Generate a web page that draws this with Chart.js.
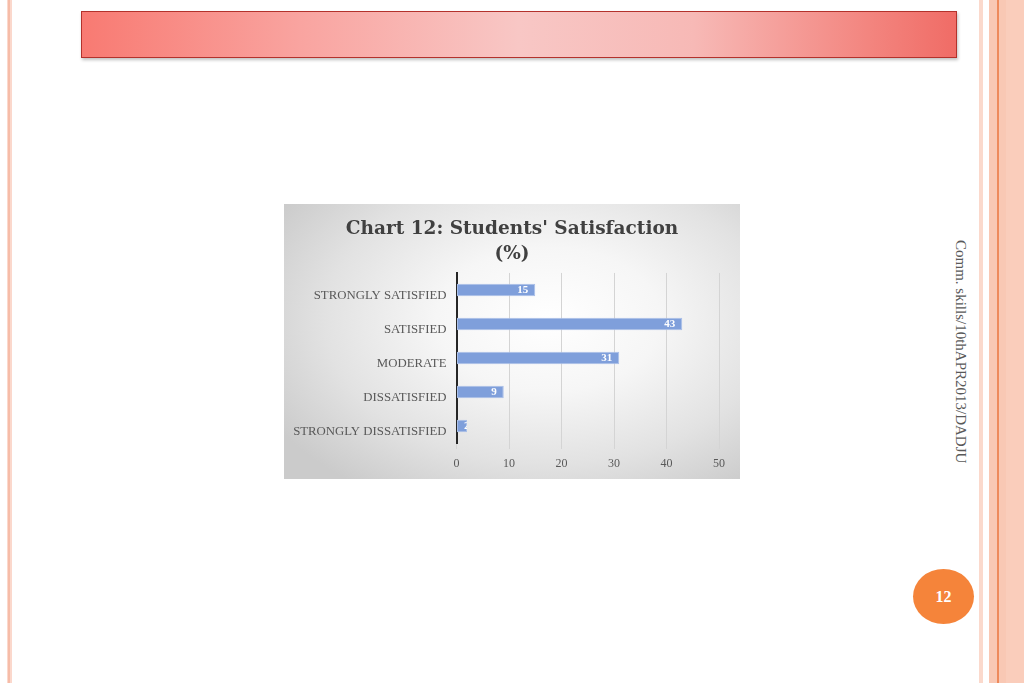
<!DOCTYPE html>
<html>
<head>
<meta charset="utf-8">
<script src="https://cdn.jsdelivr.net/npm/chart.js@4"></script>
<style>
  html, body { margin: 0; padding: 0; background: #ffffff; }
  body { width: 1024px; height: 683px; position: relative; overflow: hidden; }
  .stripe { position: absolute; top: 0; height: 683px; }
  #header {
    position: absolute; left: 81px; top: 11px; width: 874px; height: 45px;
    border: 1px solid #b3322c;
    background: linear-gradient(to right, #f87a72 0%, #f9a4a0 25%, #f8c7c5 50%, #f7b9b6 70%, #f3857f 90%, #f06c66 100%);
    box-shadow: 1px 2px 3px rgba(0,0,0,0.25);
  }
  #chartBox {
    position: absolute; left: 284px; top: 204px; width: 456px; height: 275px;
    background: radial-gradient(ellipse 70% 75% at 58% 42%, #ffffff 0%, #f6f6f6 35%, #e2e2e2 70%, #cbcbcb 100%);
  }
  #side {
    position: absolute; left: 961px; top: 240px;
    transform-origin: 0 0; transform: rotate(90deg) translate(0, -8px);
    font-family: "Liberation Serif", serif; font-size: 15px; color: #595959;
    white-space: nowrap;
  }
  #page {
    position: absolute; left: 913px; top: 569px; width: 61px; height: 55px;
    border-radius: 50%; background: #f5843a;
    color: #ffffff; font-family: "Liberation Serif", serif; font-weight: bold; font-size: 16px;
    line-height: 55px; text-align: center;
  }
</style>
</head>
<body>
<div class="stripe" style="left:7px;width:5px;background:#fbd8cc;"></div>
<div class="stripe" style="left:8px;width:2px;background:#f6bca8;"></div>
<div class="stripe" style="left:979px;width:4px;background:#fbd9cc;"></div>
<div class="stripe" style="left:989px;width:35px;background:#f9c8b4;"></div>
<div class="stripe" style="left:997px;width:2px;background:#ee8a5c;"></div>
<div class="stripe" style="left:1006px;width:18px;background:#facdbb;"></div>
<div id="header"></div>
<div id="chartBox"><canvas id="myChart" width="456" height="275"></canvas></div>
<div id="side">Comm. skills/10thAPR2013/DADJU</div>
<div id="page">12</div>
<script>
  const categories = ['STRONGLY SATISFIED', 'SATISFIED', 'MODERATE', 'DISSATISFIED', 'STRONGLY DISSATISFIED'];
  const values = [15, 43, 31, 9, 2];
  const titleLines = ["Chart 12: Students' Satisfaction", '(%)'];

  // labels drawn inside the bar end, clipped to the bar
  const barLabels = {
    id: 'barLabels',
    afterLayout(chart) {
      // center the title over the whole canvas, not the padded area
      chart.titleBlock.left = 0;
      chart.titleBlock.right = chart.width;
      chart.titleBlock.width = chart.width;
    },
    afterDatasetsDraw(chart) {
      const ctx = chart.ctx;
      const meta = chart.getDatasetMeta(0);
      const base = chart.scales.x.getPixelForValue(0);
      ctx.save();
      ctx.font = 'bold 11px "Liberation Serif", serif';
      ctx.fillStyle = '#ffffff';
      ctx.textAlign = 'right';
      ctx.textBaseline = 'middle';
      meta.data.forEach((bar, i) => {
        const h = bar.height;
        ctx.save();
        ctx.beginPath();
        ctx.rect(base, bar.y - h / 2, bar.x - base, h);
        ctx.clip();
        const x = Math.max(bar.x - 7, base + 13);
        ctx.fillText(String(values[i]), x, bar.y);
        ctx.restore();
      });
      ctx.restore();
    }
  };

  new Chart(document.getElementById('myChart'), {
    type: 'bar',
    data: {
      labels: categories,
      datasets: [{
        data: values,
        backgroundColor: '#7f9fdb',
        borderColor: '#a9bfe8',
        borderWidth: 1,
        borderSkipped: false,
        barPercentage: 0.37,
        categoryPercentage: 1
      }]
    },
    plugins: [barLabels],
    options: {
      indexAxis: 'y',
      responsive: false,
      animation: false,
      devicePixelRatio: 1,
      layout: { padding: { left: 0, right: 21, top: 0, bottom: 6 } },
      plugins: {
        legend: { display: false },
        tooltip: { enabled: false },
        title: {
          display: true,
          text: titleLines,
          color: '#404040',
          font: { family: '"DejaVu Serif", serif', size: 18.5, weight: 'bold', lineHeight: 1.35 },
          padding: { top: 13, bottom: 6 }
        }
      },
      scales: {
        x: {
          min: 0,
          max: 50,
          ticks: {
            stepSize: 10,
            color: '#595959',
            padding: 8,
            font: { family: '"Liberation Serif", serif', size: 12 }
          },
          grid: { color: '#d4d4d4', lineWidth: 1, drawTicks: true, tickLength: 6 },
          border: { display: false },
          afterFit(scale) { scale.height = 30; }
        },
        y: {
          ticks: {
            color: '#595959',
            padding: 10,
            labelOffset: 5.5,
            font: { family: '"Liberation Serif", serif', size: 12.8 }
          },
          grid: { display: false, drawTicks: false },
          border: { display: true, color: '#262626', width: 2 },
          afterFit(scale) { scale.width = 172.5; }
        }
      }
    }
  });
</script>
</body>
</html>
